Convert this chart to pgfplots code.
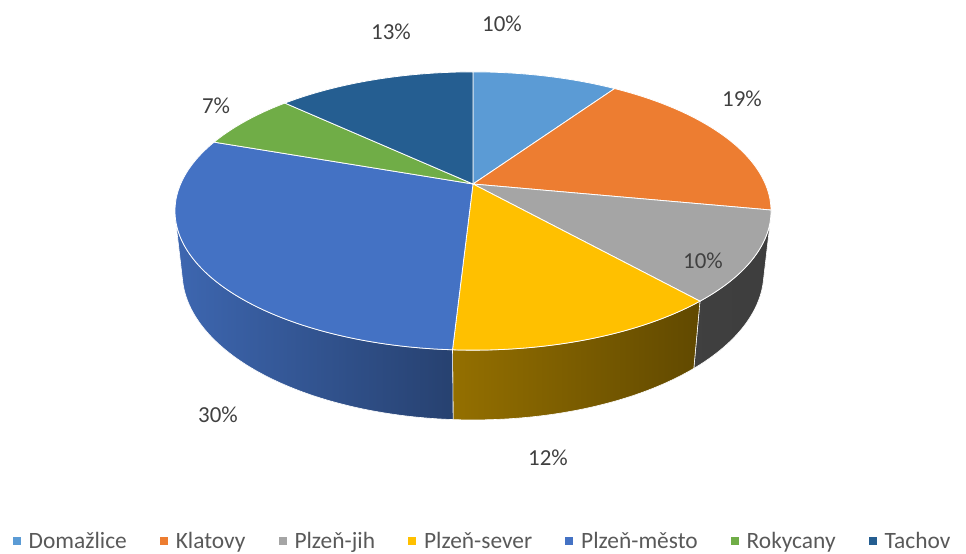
\documentclass[border=0pt]{standalone}
\usepackage{pgfplots}
\pgfplotsset{compat=1.18}
\usepackage{fontspec}
\setmainfont{Carlito}
\definecolor{cDom}{HTML}{5B9BD5}
\definecolor{cKla}{HTML}{ED7D31}
\definecolor{cJih}{HTML}{A5A5A5}
\definecolor{cSev}{HTML}{FFC000}
\definecolor{cMes}{HTML}{4472C4}
\definecolor{cRok}{HTML}{70AD47}
\definecolor{cTac}{HTML}{255E91}
\definecolor{lab}{HTML}{404040}
\definecolor{leg}{HTML}{595959}
% data: share of each district (percent)
\def\vDom{9.5}
\def\vKla{18.5}
\def\vJih{10.45}
\def\vSev{12.45}
\def\vMes{29.5}
\def\vRok{6.6}
\def\vTac{13.0}
% cumulative angles (clockwise from the far point)
\pgfmathsetmacro\aA{0}
\pgfmathsetmacro\aB{\aA+3.6*\vDom}
\pgfmathsetmacro\aC{\aB+3.6*\vKla}
\pgfmathsetmacro\aD{\aC+3.6*\vJih}
\pgfmathsetmacro\aE{\aD+3.6*\vSev}
\pgfmathsetmacro\aF{\aE+3.6*\vMes}
\pgfmathsetmacro\aG{\aF+3.6*\vRok}
\pgfmathsetmacro\aH{\aG+3.6*\vTac}
\def\visA{104.22}
\def\visB{255.78}
\pgfplotsset{
  /pgf/declare function={
    PX(\ra,\ta,\za)=1339*\ra*sin(\ta)/(4.58+0.889*\ra*cos(\ta)-0.458*\za);
    PY(\ra,\ta,\za)=1339*(0.458*\ra*cos(\ta)+0.889*\za)/(4.58+0.889*\ra*cos(\ta)-0.458*\za);
    RR(\ua)=((\ua<0)||(\ua>100))?0:1;
    CL(\ua)=min(max(\ua,0),100)/100;
    FR(\ua)=(\ua<=100)?(\ua/100):((\ua<=201)?((201-\ua)/100):0);
    ZZ(\ua)=((\ua>100)&&(\ua<=201))?(-0.238):0;
  }
}
\newcommand\slicetop[3]{%
  \addplot[forget plot, fill=#3, draw=white, line width=0.8pt, variable=\u, samples at={-1,0,1,...,100,101}]
   ({473+PX(RR(\u),#1+(#2-#1)*CL(\u),0)}, {369+PY(RR(\u),#1+(#2-#1)*CL(\u),0)});
}
\newcommand\slicewall[4]{%
  \pgfmathsetmacro\wa{max(#1,\visA)}%
  \pgfmathsetmacro\wb{min(#2,\visB)}%
  \ifdim\wa pt<\wb pt
  \addplot[forget plot, left color=#3, right color=#4, draw=white, line width=0.6pt, variable=\u, samples at={0,1,...,202}]
   ({473+PX(1,\wa+(\wb-\wa)*FR(\u),ZZ(\u))}, {369+PY(1,\wa+(\wb-\wa)*FR(\u),ZZ(\u))});
  \fi
}
\newcommand\lab[3]{\node[font=\fontsize{23}{27}\selectfont, text=lab, anchor=center] at (axis cs:#1,#2) {#3};}
\newcommand\legsq[1]{\addlegendimage{legend image code/.code={\fill[#1,draw=none] (0bp,-4bp) rectangle (8bp,4bp); \path[draw=none,fill=none] (0bp,0bp) rectangle (14bp,0.1bp);}}}
\begin{document}
\begin{tikzpicture}
\begin{axis}[width=966bp, height=553bp, scale only axis,
  xmin=0, xmax=966, ymin=0, ymax=553, hide axis, clip=false,
  legend columns=7,
  legend cell align=left,
  legend style={at={(0.4995,0.0217)}, anchor=center, draw=none, fill=none,
    font=\fontsize{23.5}{27}\selectfont, text=leg,
    /tikz/every even column/.append style={column sep=31bp}}]
\addplot[forget plot, draw=none] coordinates {(0,0) (966,553)};
% side walls
\slicewall{\aC}{\aD}{black!75}{black!76}
\slicewall{\aD}{\aE}{cSev!58!black}{cSev!38!black}
\slicewall{\aE}{\aF}{cMes!90!black}{cMes!57!black}
% top faces
\slicetop{\aA}{\aB}{cDom}
\slicetop{\aB}{\aC}{cKla}
\slicetop{\aC}{\aD}{cJih}
\slicetop{\aD}{\aE}{cSev}
\slicetop{\aE}{\aF}{cMes}
\slicetop{\aF}{\aG}{cRok}
\slicetop{\aG}{\aH}{cTac}
% labels
\lab{502}{529}{10\%}
\lab{742}{454}{19\%}
\lab{703}{292}{10\%}
\lab{548}{95}{12\%}
\lab{218}{138}{30\%}
\lab{216}{447}{7\%}
\lab{391}{521}{13\%}
% legend
\legsq{cDom}\addlegendentry{Domažlice}
\legsq{cKla}\addlegendentry{Klatovy}
\legsq{cJih}\addlegendentry{Plzeň-jih}
\legsq{cSev}\addlegendentry{Plzeň-sever}
\legsq{cMes}\addlegendentry{Plzeň-město}
\legsq{cRok}\addlegendentry{Rokycany}
\legsq{cTac}\addlegendentry{Tachov}
\end{axis}
\end{tikzpicture}
\end{document}
